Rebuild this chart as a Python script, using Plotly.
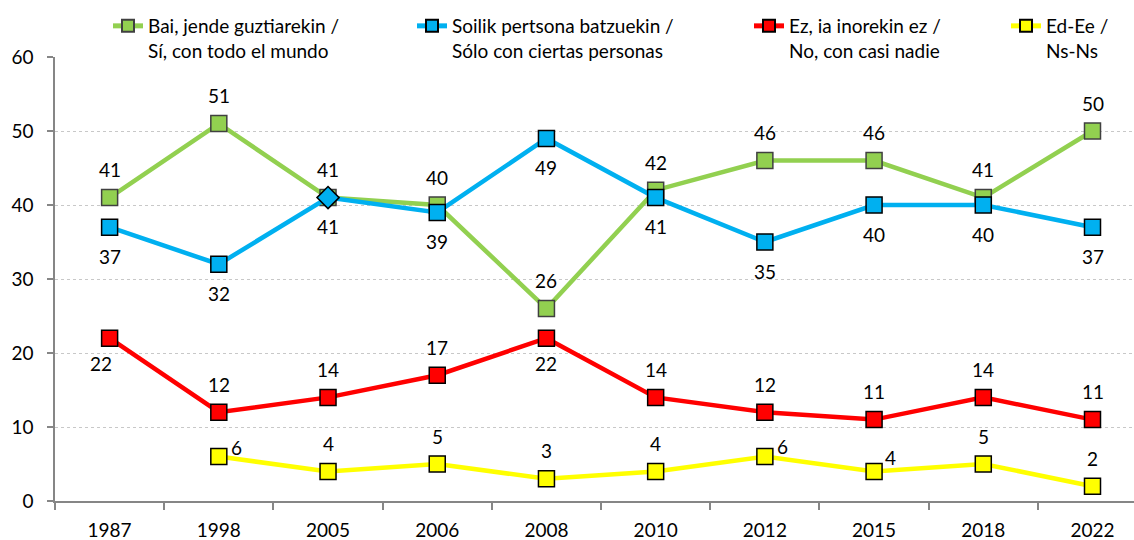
import plotly.graph_objects as go

years = ['1987', '1998', '2005', '2006', '2008', '2010', '2012', '2015', '2018', '2022']
bai = [41, 51, 41, 40, 26, 42, 46, 46, 41, 50]
soilik = [37, 32, 41, 39, 49, 41, 35, 40, 40, 37]
ez = [22, 12, 14, 17, 22, 14, 12, 11, 14, 11]
ed = [None, 6, 4, 5, 3, 4, 6, 4, 5, 2]

names = [
    'Bai, jende guztiarekin /<br>Sí, con todo el mundo',
    'Soilik pertsona batzuekin /<br>Sólo con ciertas personas',
    'Ez, ia inorekin ez /<br>No, con casi nadie',
    'Ed-Ee /<br>Ns-Ns',
]
colors = ['#92D050', '#00B0F0', '#FF0000', '#FFFF00']
borders = ['#404040', '#000000', '#000000', '#000000']
series = [bai, soilik, ez, ed]

# label placement (pixel offsets) per series/point
A = (0, 28)
B = (0, -29)
label_pos = [
    [A] * 10,
    [B] * 10,
    [(-9, -25), A, A, A, (0, -25), A, A, A, A, A],
    [None, (18, 9), A, A, A, A, (18, 10), (16, 14), A, A],
]

FONT = 'Lato'
fs = 19

fig = go.Figure()
legend_x = [108, 412, 749, 1006]
for i, (vals, name, c, bc) in enumerate(zip(series, names, colors, borders)):
    symbols = ['square'] * len(years)
    sizes = [16] * len(years)
    if i == 1:
        symbols[2] = 'diamond'
        sizes[2] = 17
    fig.add_trace(go.Scatter(
        x=years, y=vals, name=name, mode='lines+markers',
        line=dict(color=c, width=4.5),
        marker=dict(symbol=symbols, size=sizes, color=c, opacity=1,
                    line=dict(color=bc, width=1.5)),
        legend='legend' if i == 0 else f'legend{i+1}',
        connectgaps=False,
    ))
    for j, v in enumerate(vals):
        if v is None:
            continue
        dx, dy = label_pos[i][j]
        # category axes place annotations by category index
        fig.add_annotation(x=j, y=v, xref='x', yref='y', text=str(v), showarrow=False,
                           xshift=dx, yshift=dy,
                           font=dict(family=FONT, size=fs, color='#000000'))

legend_common = dict(orientation='v', xref='container', yref='container',
                     xanchor='left', yanchor='top', valign='top',
                     bgcolor='rgba(0,0,0,0)', borderwidth=0,
                     font=dict(family=FONT, size=fs, color='#000000'),
                     itemsizing='constant')
layout_legends = {}
for i, lx in enumerate(legend_x):
    key = 'legend' if i == 0 else f'legend{i+1}'
    layout_legends[key] = dict(legend_common, x=lx / 1134, y=1 - 7 / 540)

fig.update_layout(
    width=1134, height=540,
    margin=dict(l=55, r=0, t=57, b=39, autoexpand=False),
    paper_bgcolor='white', plot_bgcolor='white',
    showlegend=True,
    font=dict(family=FONT, size=fs, color='#000000'),
    xaxis=dict(
        type='category', range=[-0.5, 9.38],
        showline=True, linecolor='#868686', linewidth=1.5,
        ticks='outside', tickson='boundaries', ticklen=7, tickcolor='#868686', tickwidth=1.5,
        showgrid=False, zeroline=False,
        tickfont=dict(family=FONT, size=fs, color='#000000'),
        ticklabelstandoff=11,
    ),
    yaxis=dict(
        range=[0, 60], tickmode='array', tickvals=[0, 10, 20, 30, 40, 50, 60],
        showline=True, linecolor='#868686', linewidth=1.5,
        ticks='outside', ticklen=6, tickcolor='#868686', tickwidth=1.5,
        showgrid=False, zeroline=False,
        minor=dict(tickmode='array', tickvals=[10, 20, 30, 40, 50], showgrid=True,
                   gridcolor='#c8c8c8', griddash='dot', gridwidth=1, ticks=''),
        tickfont=dict(family=FONT, size=fs, color='#000000'),
        ticklabelstandoff=10,
    ),
    **layout_legends,
)

fig.write_html('out.html', config={'displayModeBar': False},
               post_script="document.body.style.margin='0';document.body.style.overflow='hidden';")
